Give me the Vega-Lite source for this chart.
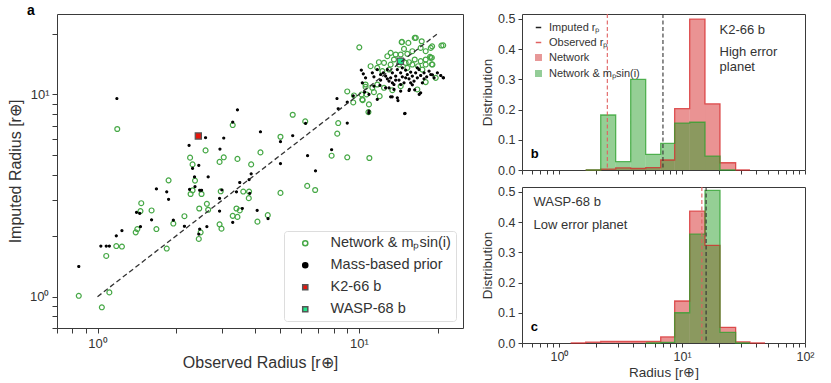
{
"$schema": "https://vega.github.io/schema/vega-lite/v6.json",
"autosize": {"type": "none"},
"padding": {"left": 57, "top": 14, "right": 774, "bottom": 369},
"background": "white",
"config": {
  "font": "Liberation Sans",
  "view": {"stroke": "#3a3a3a", "strokeWidth": 1},
  "axis": {"grid": false, "domain": false, "labelColor": "#333", "titleColor": "#333", "tickColor": "#3a3a3a", "labelFont": "Liberation Sans", "titleFont": "Liberation Sans", "titleFontWeight": "normal", "labelOverlap": false, "labelFlush": false},
  "legend": {"labelFont": "Liberation Sans", "labelColor": "#333"},
  "text": {"font": "Liberation Sans"}
},
"datasets": {
  "scatter": [
    {"obs":0.848,"imp":1.01,"grp":"Network & mₚsin(i)"},{"obs":1.039,"imp":0.886,"grp":"Network & mₚsin(i)"},{"obs":1.11,"imp":1.05,"grp":"Network & mₚsin(i)"},{"obs":1.08,"imp":1.59,"grp":"Network & mₚsin(i)"},{"obs":1.18,"imp":1.78,"grp":"Network & mₚsin(i)"},{"obs":1.24,"imp":1.77,"grp":"Network & mₚsin(i)"},{"obs":1.19,"imp":6.75,"grp":"Network & mₚsin(i)"},{"obs":1.40,"imp":2.08,"grp":"Network & mₚsin(i)"},{"obs":1.42,"imp":2.16,"grp":"Network & mₚsin(i)"},{"obs":1.46,"imp":2.65,"grp":"Network & mₚsin(i)"},{"obs":1.47,"imp":2.90,"grp":"Network & mₚsin(i)"},{"obs":1.61,"imp":2.67,"grp":"Network & mₚsin(i)"},{"obs":1.68,"imp":2.16,"grp":"Network & mₚsin(i)"},{"obs":1.84,"imp":1.73,"grp":"Network & mₚsin(i)"},{"obs":1.87,"imp":3.76,"grp":"Network & mₚsin(i)"},{"obs":1.95,"imp":2.30,"grp":"Network & mₚsin(i)"},{"obs":2.15,"imp":2.50,"grp":"Network & mₚsin(i)"},{"obs":2.26,"imp":4.87,"grp":"Network & mₚsin(i)"},{"obs":2.31,"imp":4.51,"grp":"Network & mₚsin(i)"},{"obs":2.31,"imp":3.36,"grp":"Network & mₚsin(i)"},{"obs":2.36,"imp":3.75,"grp":"Network & mₚsin(i)"},{"obs":2.27,"imp":3.22,"grp":"Network & mₚsin(i)"},{"obs":2.44,"imp":1.93,"grp":"Network & mₚsin(i)"},{"obs":2.45,"imp":2.73,"grp":"Network & mₚsin(i)"},{"obs":2.48,"imp":2.08,"grp":"Network & mₚsin(i)"},{"obs":2.50,"imp":3.22,"grp":"Network & mₚsin(i)"},{"obs":2.59,"imp":5.29,"grp":"Network & mₚsin(i)"},{"obs":2.62,"imp":2.88,"grp":"Network & mₚsin(i)"},{"obs":2.65,"imp":2.69,"grp":"Network & mₚsin(i)"},{"obs":2.93,"imp":4.64,"grp":"Network & mₚsin(i)"},{"obs":2.96,"imp":3.32,"grp":"Network & mₚsin(i)"},{"obs":3.04,"imp":4.89,"grp":"Network & mₚsin(i)"},{"obs":2.93,"imp":2.28,"grp":"Network & mₚsin(i)"},{"obs":2.98,"imp":2.17,"grp":"Network & mₚsin(i)"},{"obs":3.29,"imp":7.06,"grp":"Network & mₚsin(i)"},{"obs":3.29,"imp":2.51,"grp":"Network & mₚsin(i)"},{"obs":3.43,"imp":4.80,"grp":"Network & mₚsin(i)"},{"obs":3.40,"imp":2.73,"grp":"Network & mₚsin(i)"},{"obs":3.43,"imp":2.48,"grp":"Network & mₚsin(i)"},{"obs":3.50,"imp":2.67,"grp":"Network & mₚsin(i)"},{"obs":3.61,"imp":3.31,"grp":"Network & mₚsin(i)"},{"obs":3.80,"imp":3.31,"grp":"Network & mₚsin(i)"},{"obs":3.79,"imp":3.07,"grp":"Network & mₚsin(i)"},{"obs":3.87,"imp":4.51,"grp":"Network & mₚsin(i)"},{"obs":4.09,"imp":2.35,"grp":"Network & mₚsin(i)"},{"obs":4.20,"imp":5.17,"grp":"Network & mₚsin(i)"},{"obs":4.48,"imp":2.53,"grp":"Network & mₚsin(i)"},{"obs":5.01,"imp":6.18,"grp":"Network & mₚsin(i)"},{"obs":5.01,"imp":3.26,"grp":"Network & mₚsin(i)"},{"obs":5.58,"imp":7.94,"grp":"Network & mₚsin(i)"},{"obs":6.23,"imp":7.36,"grp":"Network & mₚsin(i)"},{"obs":6.34,"imp":3.53,"grp":"Network & mₚsin(i)"},{"obs":6.80,"imp":3.37,"grp":"Network & mₚsin(i)"},{"obs":7.86,"imp":4.98,"grp":"Network & mₚsin(i)"},{"obs":8.26,"imp":6.40,"grp":"Network & mₚsin(i)"},{"obs":8.33,"imp":7.22,"grp":"Network & mₚsin(i)"},{"obs":9.02,"imp":4.89,"grp":"Network & mₚsin(i)"},{"obs":9.02,"imp":10.35,"grp":"Network & mₚsin(i)"},{"obs":9.51,"imp":9.13,"grp":"Network & mₚsin(i)"},{"obs":10.33,"imp":9.37,"grp":"Network & mₚsin(i)"},{"obs":10.92,"imp":8.93,"grp":"Network & mₚsin(i)"},{"obs":10.87,"imp":8.18,"grp":"Network & mₚsin(i)"},{"obs":10.96,"imp":4.85,"grp":"Network & mₚsin(i)"},{"obs":10.03,"imp":17.1,"grp":"Network & mₚsin(i)"},{"obs":10.23,"imp":10.0,"grp":"Network & mₚsin(i)"},{"obs":10.6,"imp":10.9,"grp":"Network & mₚsin(i)"},
    {"obs":14.57,"imp":18.13,"grp":"Network & mₚsin(i)"},{"obs":15.45,"imp":17.99,"grp":"Network & mₚsin(i)"},{"obs":16.34,"imp":19.04,"grp":"Network & mₚsin(i)"},{"obs":17.38,"imp":18.33,"grp":"Network & mₚsin(i)"},{"obs":20.67,"imp":17.45,"grp":"Network & mₚsin(i)"},{"obs":14.87,"imp":16.80,"grp":"Network & mₚsin(i)"},{"obs":16.00,"imp":16.37,"grp":"Network & mₚsin(i)"},{"obs":17.22,"imp":16.99,"grp":"Network & mₚsin(i)"},{"obs":18.82,"imp":16.99,"grp":"Network & mₚsin(i)"},{"obs":13.22,"imp":16.06,"grp":"Network & mₚsin(i)"},{"obs":13.82,"imp":15.76,"grp":"Network & mₚsin(i)"},{"obs":14.44,"imp":15.76,"grp":"Network & mₚsin(i)"},{"obs":15.31,"imp":15.88,"grp":"Network & mₚsin(i)"},{"obs":18.00,"imp":16.37,"grp":"Network & mₚsin(i)"},{"obs":18.70,"imp":15.35,"grp":"Network & mₚsin(i)"},{"obs":12.84,"imp":15.46,"grp":"Network & mₚsin(i)"},{"obs":13.61,"imp":14.89,"grp":"Network & mₚsin(i)"},{"obs":14.44,"imp":14.61,"grp":"Network & mₚsin(i)"},{"obs":15.54,"imp":14.44,"grp":"Network & mₚsin(i)"},{"obs":16.34,"imp":14.89,"grp":"Network & mₚsin(i)"},{"obs":17.22,"imp":14.61,"grp":"Network & mₚsin(i)"},{"obs":18.00,"imp":14.89,"grp":"Network & mₚsin(i)"},{"obs":18.82,"imp":15.17,"grp":"Network & mₚsin(i)"},{"obs":19.10,"imp":14.06,"grp":"Network & mₚsin(i)"},{"obs":11.92,"imp":14.44,"grp":"Network & mₚsin(i)"},{"obs":12.47,"imp":14.33,"grp":"Network & mₚsin(i)"},{"obs":13.22,"imp":14.06,"grp":"Network & mₚsin(i)"},{"obs":14.23,"imp":14.06,"grp":"Network & mₚsin(i)"},{"obs":15.09,"imp":14.33,"grp":"Network & mₚsin(i)"},{"obs":16.00,"imp":14.06,"grp":"Network & mₚsin(i)"},{"obs":16.83,"imp":13.80,"grp":"Network & mₚsin(i)"},{"obs":18.00,"imp":14.06,"grp":"Network & mₚsin(i)"},{"obs":11.08,"imp":13.80,"grp":"Network & mₚsin(i)"},{"obs":11.75,"imp":13.54,"grp":"Network & mₚsin(i)"},{"obs":12.29,"imp":13.04,"grp":"Network & mₚsin(i)"},{"obs":13.03,"imp":13.28,"grp":"Network & mₚsin(i)"},{"obs":15.31,"imp":13.54,"grp":"Network & mₚsin(i)"},{"obs":17.48,"imp":13.28,"grp":"Network & mₚsin(i)"},{"obs":18.00,"imp":11.51,"grp":"Network & mₚsin(i)"},{"obs":10.60,"imp":11.20,"grp":"Network & mₚsin(i)"},{"obs":11.25,"imp":10.79,"grp":"Network & mₚsin(i)"},{"obs":11.75,"imp":11.20,"grp":"Network & mₚsin(i)"},{"obs":12.47,"imp":10.79,"grp":"Network & mₚsin(i)"},{"obs":13.42,"imp":10.50,"grp":"Network & mₚsin(i)"},{"obs":14.44,"imp":10.99,"grp":"Network & mₚsin(i)"},{"obs":11.41,"imp":10.27,"grp":"Network & mₚsin(i)"},{"obs":10.70,"imp":10.0,"grp":"Network & mₚsin(i)"},{"obs":12.00,"imp":9.81,"grp":"Network & mₚsin(i)"},{"obs":10.30,"imp":9.45,"grp":"Network & mₚsin(i)"},{"obs":16.72,"imp":10.59,"grp":"Network & mₚsin(i)"},{"obs":19.66,"imp":12.08,"grp":"Network & mₚsin(i)"},{"obs":9.57,"imp":9.89,"grp":"Network & mₚsin(i)"},{"obs":21.0,"imp":17.5,"grp":"Network & mₚsin(i)"},{"obs":19.05,"imp":17.3,"grp":"Network & mₚsin(i)"},{"obs":19.0,"imp":15.2,"grp":"Network & mₚsin(i)"},{"obs":19.0,"imp":14.1,"grp":"Network & mₚsin(i)"},{"obs":16.5,"imp":19.05,"grp":"Network & mₚsin(i)"},{"obs":14.6,"imp":18.2,"grp":"Network & mₚsin(i)"},
    {"obs":0.848,"imp":1.41,"grp":"Mass-based prior"},{"obs":1.186,"imp":9.55,"grp":"Mass-based prior"},{"obs":1.03,"imp":1.78,"grp":"Mass-based prior"},{"obs":1.08,"imp":1.78,"grp":"Mass-based prior"},{"obs":1.11,"imp":1.78,"grp":"Mass-based prior"},{"obs":1.18,"imp":2.0,"grp":"Mass-based prior"},{"obs":1.24,"imp":2.12,"grp":"Mass-based prior"},{"obs":1.41,"imp":2.61,"grp":"Mass-based prior"},{"obs":1.45,"imp":2.58,"grp":"Mass-based prior"},{"obs":1.46,"imp":2.22,"grp":"Mass-based prior"},{"obs":1.61,"imp":2.40,"grp":"Mass-based prior"},{"obs":1.68,"imp":3.41,"grp":"Mass-based prior"},{"obs":1.84,"imp":3.30,"grp":"Mass-based prior"},{"obs":1.87,"imp":3.03,"grp":"Mass-based prior"},{"obs":1.95,"imp":2.39,"grp":"Mass-based prior"},{"obs":2.15,"imp":2.23,"grp":"Mass-based prior"},{"obs":2.24,"imp":5.6,"grp":"Mass-based prior"},{"obs":2.31,"imp":4.31,"grp":"Mass-based prior"},{"obs":2.25,"imp":3.39,"grp":"Mass-based prior"},{"obs":2.35,"imp":3.91,"grp":"Mass-based prior"},{"obs":2.36,"imp":3.50,"grp":"Mass-based prior"},{"obs":2.44,"imp":4.46,"grp":"Mass-based prior"},{"obs":2.46,"imp":3.36,"grp":"Mass-based prior"},{"obs":2.50,"imp":3.36,"grp":"Mass-based prior"},{"obs":2.59,"imp":6.11,"grp":"Mass-based prior"},{"obs":2.65,"imp":3.91,"grp":"Mass-based prior"},{"obs":2.44,"imp":2.04,"grp":"Mass-based prior"},{"obs":2.46,"imp":2.16,"grp":"Mass-based prior"},{"obs":2.62,"imp":2.22,"grp":"Mass-based prior"},{"obs":2.94,"imp":5.37,"grp":"Mass-based prior"},{"obs":3.04,"imp":6.09,"grp":"Mass-based prior"},{"obs":2.93,"imp":3.06,"grp":"Mass-based prior"},{"obs":2.99,"imp":3.37,"grp":"Mass-based prior"},{"obs":2.93,"imp":2.65,"grp":"Mass-based prior"},{"obs":3.29,"imp":7.3,"grp":"Mass-based prior"},{"obs":3.43,"imp":8.4,"grp":"Mass-based prior"},{"obs":3.29,"imp":2.33,"grp":"Mass-based prior"},{"obs":3.40,"imp":3.30,"grp":"Mass-based prior"},{"obs":3.50,"imp":3.67,"grp":"Mass-based prior"},{"obs":3.58,"imp":2.73,"grp":"Mass-based prior"},{"obs":3.80,"imp":3.79,"grp":"Mass-based prior"},{"obs":3.82,"imp":3.24,"grp":"Mass-based prior"},{"obs":3.87,"imp":4.05,"grp":"Mass-based prior"},{"obs":4.20,"imp":6.54,"grp":"Mass-based prior"},{"obs":4.08,"imp":2.67,"grp":"Mass-based prior"},{"obs":4.49,"imp":2.43,"grp":"Mass-based prior"},{"obs":5.01,"imp":5.84,"grp":"Mass-based prior"},{"obs":5.01,"imp":4.55,"grp":"Mass-based prior"},{"obs":5.58,"imp":6.25,"grp":"Mass-based prior"},{"obs":6.25,"imp":7.19,"grp":"Mass-based prior"},{"obs":6.36,"imp":4.98,"grp":"Mass-based prior"},{"obs":6.82,"imp":4.19,"grp":"Mass-based prior"},{"obs":7.86,"imp":5.33,"grp":"Mass-based prior"},{"obs":8.24,"imp":9.55,"grp":"Mass-based prior"},{"obs":8.33,"imp":8.5,"grp":"Mass-based prior"},{"obs":9.02,"imp":7.22,"grp":"Mass-based prior"},{"obs":9.02,"imp":9.17,"grp":"Mass-based prior"},{"obs":9.51,"imp":9.85,"grp":"Mass-based prior"},{"obs":10.9,"imp":8.09,"grp":"Mass-based prior"},{"obs":15.0,"imp":8.06,"grp":"Mass-based prior"},{"obs":14.1,"imp":9.33,"grp":"Mass-based prior"},{"obs":21.0,"imp":12.1,"grp":"Mass-based prior"},{"obs":17.0,"imp":10.0,"grp":"Mass-based prior"},{"obs":15.6,"imp":10.6,"grp":"Mass-based prior"},{"obs":13.4,"imp":9.73,"grp":"Mass-based prior"},
    {"obs":10.21,"imp":13.18,"grp":"Mass-based prior"},{"obs":10.39,"imp":12.65,"grp":"Mass-based prior"},{"obs":10.60,"imp":12.08,"grp":"Mass-based prior"},{"obs":10.30,"imp":11.42,"grp":"Mass-based prior"},{"obs":11.25,"imp":12.79,"grp":"Mass-based prior"},{"obs":11.41,"imp":12.22,"grp":"Mass-based prior"},{"obs":11.75,"imp":13.28,"grp":"Mass-based prior"},{"obs":12.10,"imp":11.77,"grp":"Mass-based prior"},{"obs":12.39,"imp":12.79,"grp":"Mass-based prior"},{"obs":12.65,"imp":12.31,"grp":"Mass-based prior"},{"obs":12.84,"imp":13.28,"grp":"Mass-based prior"},{"obs":13.03,"imp":11.64,"grp":"Mass-based prior"},{"obs":13.22,"imp":12.08,"grp":"Mass-based prior"},{"obs":13.42,"imp":12.79,"grp":"Mass-based prior"},{"obs":13.61,"imp":11.20,"grp":"Mass-based prior"},{"obs":13.82,"imp":12.31,"grp":"Mass-based prior"},{"obs":14.02,"imp":13.28,"grp":"Mass-based prior"},{"obs":14.23,"imp":11.77,"grp":"Mass-based prior"},{"obs":14.44,"imp":12.79,"grp":"Mass-based prior"},{"obs":14.65,"imp":12.22,"grp":"Mass-based prior"},{"obs":14.87,"imp":11.42,"grp":"Mass-based prior"},{"obs":15.09,"imp":13.18,"grp":"Mass-based prior"},{"obs":15.31,"imp":12.55,"grp":"Mass-based prior"},{"obs":15.54,"imp":11.95,"grp":"Mass-based prior"},{"obs":15.77,"imp":12.89,"grp":"Mass-based prior"},{"obs":16.00,"imp":12.31,"grp":"Mass-based prior"},{"obs":16.24,"imp":11.64,"grp":"Mass-based prior"},{"obs":16.48,"imp":12.79,"grp":"Mass-based prior"},{"obs":16.72,"imp":12.08,"grp":"Mass-based prior"},{"obs":16.97,"imp":13.28,"grp":"Mass-based prior"},{"obs":17.22,"imp":12.41,"grp":"Mass-based prior"},{"obs":17.48,"imp":11.42,"grp":"Mass-based prior"},{"obs":17.74,"imp":12.79,"grp":"Mass-based prior"},{"obs":18.16,"imp":12.22,"grp":"Mass-based prior"},{"obs":18.54,"imp":13.04,"grp":"Mass-based prior"},{"obs":18.82,"imp":12.55,"grp":"Mass-based prior"},{"obs":19.38,"imp":12.08,"grp":"Mass-based prior"},{"obs":19.95,"imp":12.79,"grp":"Mass-based prior"},{"obs":21.04,"imp":12.08,"grp":"Mass-based prior"},{"obs":20.55,"imp":12.41,"grp":"Mass-based prior"},{"obs":13.61,"imp":10.59,"grp":"Mass-based prior"},{"obs":14.02,"imp":9.63,"grp":"Mass-based prior"},{"obs":14.44,"imp":10.38,"grp":"Mass-based prior"},{"obs":15.54,"imp":10.46,"grp":"Mass-based prior"},{"obs":16.00,"imp":11.16,"grp":"Mass-based prior"},{"obs":16.34,"imp":10.54,"grp":"Mass-based prior"},{"obs":17.22,"imp":10.19,"grp":"Mass-based prior"},{"obs":10.51,"imp":10.27,"grp":"Mass-based prior"},{"obs":10.92,"imp":10.0,"grp":"Mass-based prior"},{"obs":11.41,"imp":10.99,"grp":"Mass-based prior"},{"obs":12.03,"imp":11.08,"grp":"Mass-based prior"},{"obs":12.65,"imp":10.79,"grp":"Mass-based prior"},{"obs":14.96,"imp":8.03,"grp":"Mass-based prior"},{"obs":10.92,"imp":8.27,"grp":"Mass-based prior"},{"obs":13.22,"imp":9.74,"grp":"Mass-based prior"},{"obs":11.75,"imp":9.45,"grp":"Mass-based prior"},{"obs":19.10,"imp":12.50,"grp":"Mass-based prior"},{"obs":16.72,"imp":13.54,"grp":"Mass-based prior"},{"obs":14.65,"imp":13.54,"grp":"Mass-based prior"},{"obs":13.03,"imp":10.79,"grp":"Mass-based prior"},{"obs":12.84,"imp":11.95,"grp":"Mass-based prior"},{"obs":13.82,"imp":11.77,"grp":"Mass-based prior"},{"obs":15.09,"imp":12.08,"grp":"Mass-based prior"},{"obs":13.42,"imp":11.42,"grp":"Mass-based prior"},{"obs":12.10,"imp":12.55,"grp":"Mass-based prior"},{"obs":15.77,"imp":11.42,"grp":"Mass-based prior"},{"obs":17.74,"imp":11.95,"grp":"Mass-based prior"},{"obs":14.44,"imp":11.20,"grp":"Mass-based prior"},
    {"obs":2.43,"imp":6.23,"grp":"K2-66 b"},
    {"obs":14.4,"imp":14.6,"grp":"WASP-68 b"}
  ],
  "hist": [
    {"p":"b","s":"Network","lo":1.647,"hi":2.182,"v":0},{"p":"b","s":"Network","lo":2.182,"hi":2.888,"v":0.003},{"p":"b","s":"Network","lo":2.888,"hi":3.825,"v":0.007},{"p":"b","s":"Network","lo":3.825,"hi":5.066,"v":0.005},{"p":"b","s":"Network","lo":5.066,"hi":6.709,"v":0.008},{"p":"b","s":"Network","lo":6.709,"hi":8.71,"v":0.033},{"p":"b","s":"Network","lo":8.71,"hi":11.54,"v":0.203},{"p":"b","s":"Network","lo":11.54,"hi":15.38,"v":0.499},{"p":"b","s":"Network","lo":15.38,"hi":20.37,"v":0.219},{"p":"b","s":"Network","lo":20.37,"hi":27.3,"v":0.024},{"p":"b","s":"Network","lo":27.3,"hi":35.7,"v":0},
    {"p":"b","s":"Network & mₚsin(i)","lo":1.647,"hi":2.182,"v":0},{"p":"b","s":"Network & mₚsin(i)","lo":2.182,"hi":2.888,"v":0.182},{"p":"b","s":"Network & mₚsin(i)","lo":2.888,"hi":3.825,"v":0.028},{"p":"b","s":"Network & mₚsin(i)","lo":3.825,"hi":5.066,"v":0.30},{"p":"b","s":"Network & mₚsin(i)","lo":5.066,"hi":6.709,"v":0.052},{"p":"b","s":"Network & mₚsin(i)","lo":6.709,"hi":8.71,"v":0.088},{"p":"b","s":"Network & mₚsin(i)","lo":8.71,"hi":11.54,"v":0.155},{"p":"b","s":"Network & mₚsin(i)","lo":11.54,"hi":15.38,"v":0.158},{"p":"b","s":"Network & mₚsin(i)","lo":15.38,"hi":20.37,"v":0.046},{"p":"b","s":"Network & mₚsin(i)","lo":20.37,"hi":27.3,"v":0},
    {"p":"c","s":"Network","lo":1.244,"hi":1.647,"v":0},{"p":"c","s":"Network","lo":1.647,"hi":2.182,"v":0.003},{"p":"c","s":"Network","lo":2.182,"hi":2.888,"v":0.005},{"p":"c","s":"Network","lo":2.888,"hi":3.825,"v":0.005},{"p":"c","s":"Network","lo":3.825,"hi":5.066,"v":0.005},{"p":"c","s":"Network","lo":5.066,"hi":6.709,"v":0.005},{"p":"c","s":"Network","lo":6.709,"hi":8.71,"v":0.02},{"p":"c","s":"Network","lo":8.71,"hi":11.54,"v":0.139},{"p":"c","s":"Network","lo":11.54,"hi":15.38,"v":0.436},{"p":"c","s":"Network","lo":15.38,"hi":20.37,"v":0.323},{"p":"c","s":"Network","lo":20.37,"hi":27.3,"v":0.052},{"p":"c","s":"Network","lo":27.3,"hi":35.7,"v":0.004},{"p":"c","s":"Network","lo":35.7,"hi":47.3,"v":0},
    {"p":"c","s":"Network & mₚsin(i)","lo":5.066,"hi":6.709,"v":0},{"p":"c","s":"Network & mₚsin(i)","lo":6.709,"hi":8.71,"v":0.002},{"p":"c","s":"Network & mₚsin(i)","lo":8.71,"hi":11.54,"v":0.10},{"p":"c","s":"Network & mₚsin(i)","lo":11.54,"hi":15.38,"v":0.36},{"p":"c","s":"Network & mₚsin(i)","lo":15.38,"hi":20.37,"v":0.505},{"p":"c","s":"Network & mₚsin(i)","lo":20.37,"hi":27.3,"v":0.035},{"p":"c","s":"Network & mₚsin(i)","lo":27.3,"hi":35.7,"v":0}
  ],
  "vlines": [
    {"p":"b","s":"Observed rₚ","x":2.47},{"p":"b","s":"Imputed rₚ","x":7.0},
    {"p":"c","s":"Observed rₚ","x":14.5},{"p":"c","s":"Imputed rₚ","x":15.7}
  ],
  "notes": [
    {"p":"b","t":"K2-66 b","x":20.2,"y":0.463},{"p":"b","t":"High error","x":20.2,"y":0.391},{"p":"b","t":"planet","x":20.2,"y":0.342},
    {"p":"c","t":"WASP-68 b","x":0.62,"y":0.466},{"p":"c","t":"Low error planet","x":0.62,"y":0.390}
  ],
  "letters": [
    {"p":"b","t":"b","x":0.59,"y":0.053},
    {"p":"c","t":"c","x":0.59,"y":0.052}
  ]
},
"bounds": "flush",
"spacing": 59,
"resolve": {"scale": {"color": "independent", "fill": "independent", "stroke": "independent", "shape": "independent"}, "legend": {"color": "independent", "fill": "independent", "stroke": "independent", "shape": "independent"}},
"hconcat": [
  {
    "width": 406, "height": 314,
    "title": {"text": "a", "anchor": "start", "frame": "group", "dx": -30, "dy": 15, "offset": 0, "baseline": "alphabetic", "fontSize": 14, "fontWeight": "bold", "color": "#000"},
    "layer": [
      {
        "data": {"name": "scatter"},
        "mark": {"type": "point", "opacity": 1, "strokeWidth": 1.2},
        "encoding": {
          "x": {"field": "obs", "type": "quantitative", "scale": {"type": "log", "domain": [0.7, 25]},
                "axis": {"title": "Observed Radius [r⊕]", "values": [0.7,0.8,0.9,1,2,3,4,5,6,7,8,9,10,20], "labelExpr": "datum.value == 1 ? '10⁰' : datum.value == 10 ? '10¹' : ''", "labelOverlap": false, "labelFlush": false, "tickSize": 5, "encode": {"ticks": {"update": {"y2": {"signal": "(datum.value == 1 || datum.value == 10) ? 5 : 3"}}}}, "labelFontSize": 13, "titleFontSize": 16, "labelPadding": 4, "titlePadding": 4}},
          "y": {"field": "imp", "type": "quantitative", "scale": {"type": "log", "domain": [0.7, 25]},
                "axis": {"title": "Imputed Radius [r⊕]", "values": [0.7,0.8,0.9,1,2,3,4,5,6,7,8,9,10,20], "labelExpr": "datum.value == 1 ? '10⁰' : datum.value == 10 ? '10¹' : ''", "labelOverlap": false, "labelFlush": false, "tickSize": 5, "encode": {"ticks": {"update": {"x2": {"signal": "(datum.value == 1 || datum.value == 10) ? -5 : -3"}}}}, "labelFontSize": 13, "titleFontSize": 16, "labelPadding": 3, "titlePadding": 6}},
          "shape": {"field": "grp", "type": "nominal", "scale": {"domain": ["Network & mₚsin(i)", "Mass-based prior", "K2-66 b", "WASP-68 b"], "range": ["circle", "circle", "square", "square"]},
                    "legend": {"title": null, "orient": "bottom-right", "offset": 7, "fillColor": "white", "strokeColor": "#dddddd", "cornerRadius": 3, "padding": 5, "labelFontSize": 14.5, "rowPadding": 7, "labelOffset": 18, "symbolOffset": 9, "symbolSize": 26}},
          "fill": {"field": "grp", "type": "nominal", "scale": {"domain": ["Network & mₚsin(i)", "Mass-based prior", "K2-66 b", "WASP-68 b"], "range": ["transparent", "#000000", "#e8160c", "#22e88a"]},
                   "legend": {"title": null, "orient": "bottom-right", "offset": 7, "fillColor": "white", "strokeColor": "#dddddd", "cornerRadius": 3, "padding": 5, "labelFontSize": 14.5, "rowPadding": 7, "labelOffset": 18, "symbolOffset": 9, "symbolSize": 26}},
          "stroke": {"field": "grp", "type": "nominal", "scale": {"domain": ["Network & mₚsin(i)", "Mass-based prior", "K2-66 b", "WASP-68 b"], "range": ["#46a846", "#000000", "#555555", "#555555"]},
                     "legend": {"title": null, "orient": "bottom-right", "offset": 7, "fillColor": "white", "strokeColor": "#dddddd", "cornerRadius": 3, "padding": 5, "labelFontSize": 14.5, "rowPadding": 7, "labelOffset": 18, "symbolOffset": 9, "symbolSize": 26}},
          "size": {"condition": [{"test": "datum.grp == 'Mass-based prior'", "value": 4}, {"test": "datum.grp == 'K2-66 b' || datum.grp == 'WASP-68 b'", "value": 38}], "value": 24}
        }
      },
      {
        "data": {"values": [{"a": 1}, {"a": 20}]},
        "mark": {"type": "line", "color": "#333333", "strokeDash": [5, 3], "strokeWidth": 1.3},
        "encoding": {
          "x": {"field": "a", "type": "quantitative", "scale": {"type": "log", "domain": [0.7, 25]}},
          "y": {"field": "a", "type": "quantitative", "scale": {"type": "log", "domain": [0.7, 25]}}
        }
      }
    ]
  },
  {
    "bounds": "flush",
    "spacing": 17,
    "vconcat": [
      {
        "width": 283, "height": 156,
        "layer": [
          {
            "data": {"name": "hist"},
            "transform": [{"filter": "datum.p == 'b'"}],
            "mark": {"type": "bar", "opacity": 0.5},
            "encoding": {
              "x": {"field": "lo", "type": "quantitative", "scale": {"type": "log", "domain": [0.5, 100]},
                    "axis": {"title": null, "labels": false, "values": [0.5,0.6,0.7,0.8,0.9,1,2,3,4,5,6,7,8,9,10,20,30,40,50,60,70,80,90,100], "tickSize": 4, "encode": {"ticks": {"update": {"y2": {"signal": "(datum.value == 1 || datum.value == 10 || datum.value == 100) ? 4 : 2.5"}}}}}},
              "x2": {"field": "hi"},
              "y": {"field": "v", "type": "quantitative", "scale": {"domain": [0, 0.516]},
                    "axis": {"title": "Distribution", "values": [0,0.1,0.2,0.3,0.4,0.5], "tickCount": 6, "format": ".1f", "labelOverlap": false, "labelFlush": false, "tickSize": 4, "labelFontSize": 12.5, "titleFontSize": 13.5, "labelPadding": 3, "titlePadding": 3}},
              "y2": {"datum": 0},
              "color": {"field": "s", "type": "nominal", "scale": {"domain": ["Network", "Network & mₚsin(i)", "Imputed rₚ", "Observed rₚ"], "range": ["#d62728", "#2ca02c", "#333333", "#e06060"]}, "legend": null}
            }
          },
          {
            "data": {"name": "hist"},
            "transform": [{"filter": "datum.p == 'b'"}, {"fold": ["lo", "hi"], "as": ["k", "xv"]}],
            "mark": {"type": "line", "strokeWidth": 1.3, "opacity": 0.75},
            "encoding": {
              "x": {"field": "xv", "type": "quantitative", "scale": {"type": "log", "domain": [0.5, 100]}},
              "y": {"field": "v", "type": "quantitative", "scale": {"domain": [0, 0.516]}},
              "color": {"field": "s", "type": "nominal", "scale": {"domain": ["Network", "Network & mₚsin(i)", "Imputed rₚ", "Observed rₚ"], "range": ["#d62728", "#2ca02c", "#333333", "#e06060"]}, "legend": null},
              "order": [{"field": "lo", "type": "quantitative"}, {"field": "k", "type": "nominal", "sort": "descending"}]
            }
          },
          {
            "data": {"name": "vlines"},
            "transform": [{"filter": "datum.p == 'b'"}],
            "mark": {"type": "rule", "strokeDash": [4, 2.5], "strokeWidth": 1.1},
            "encoding": {
              "x": {"field": "x", "type": "quantitative", "scale": {"type": "log", "domain": [0.5, 100]}},
              "color": {"field": "s", "type": "nominal", "scale": {"domain": ["Network", "Network & mₚsin(i)", "Imputed rₚ", "Observed rₚ"], "range": ["#d62728", "#2ca02c", "#333333", "#e06060"]}, "legend": null}
            }
          },
          {
            "data": {"name": "notes"},
            "transform": [{"filter": "datum.p == 'b'"}],
            "mark": {"type": "text", "align": "left", "baseline": "middle", "fontSize": 13, "color": "#333"},
            "encoding": {
              "x": {"field": "x", "type": "quantitative", "scale": {"type": "log", "domain": [0.5, 100]}},
              "y": {"field": "y", "type": "quantitative", "scale": {"domain": [0, 0.516]}},
              "text": {"field": "t"}
            }
          },
          {
            "data": {"name": "letters"},
            "transform": [{"filter": "datum.p == 'b'"}],
            "mark": {"type": "text", "align": "left", "baseline": "middle", "fontSize": 13, "fontWeight": "bold", "color": "#000"},
            "encoding": {
              "x": {"field": "x", "type": "quantitative", "scale": {"type": "log", "domain": [0.5, 100]}},
              "y": {"field": "y", "type": "quantitative", "scale": {"domain": [0, 0.516]}},
              "text": {"field": "t"}
            }
          },
          {
            "data": {"name": "vlines"},
            "transform": [{"filter": "false"}],
            "mark": {"type": "point", "filled": true, "opacity": 1},
            "encoding": {
              "fill": {"field": "s", "type": "nominal", "scale": {"domain": ["Imputed rₚ", "Observed rₚ", "Network", "Network & mₚsin(i)"], "range": ["#222222", "#e06060", "#e79898", "#94cd98"]},
                       "legend": {"title": null, "orient": "top-left", "offset": 6, "padding": 2, "labelFontSize": 11, "rowPadding": 3, "symbolSize": 30, "symbolStrokeWidth": 1.5, "labelOffset": 5, "symbolOffset": 3}},
              "stroke": {"field": "s", "type": "nominal", "scale": {"domain": ["Imputed rₚ", "Observed rₚ", "Network", "Network & mₚsin(i)"], "range": ["#222222", "#e06060", "#e79898", "#94cd98"]},
                       "legend": {"title": null, "orient": "top-left", "offset": 6, "padding": 2, "labelFontSize": 11, "rowPadding": 3, "symbolSize": 30, "symbolStrokeWidth": 1.5, "labelOffset": 5, "symbolOffset": 3}},
              "shape": {"field": "s", "type": "nominal", "scale": {"domain": ["Imputed rₚ", "Observed rₚ", "Network", "Network & mₚsin(i)"], "range": ["stroke", "stroke", "square", "square"]},
                       "legend": {"title": null, "orient": "top-left", "offset": 6, "padding": 2, "labelFontSize": 11, "rowPadding": 3, "symbolSize": 30, "symbolStrokeWidth": 1.5, "labelOffset": 5, "symbolOffset": 3}}
            }
          }
        ]
      },
      {
        "width": 283, "height": 156,
        "layer": [
          {
            "data": {"name": "hist"},
            "transform": [{"filter": "datum.p == 'c'"}],
            "mark": {"type": "bar", "opacity": 0.5},
            "encoding": {
              "x": {"field": "lo", "type": "quantitative", "scale": {"type": "log", "domain": [0.5, 100]},
                    "axis": {"title": "Radius [r⊕]", "values": [0.5,0.6,0.7,0.8,0.9,1,2,3,4,5,6,7,8,9,10,20,30,40,50,60,70,80,90,100], "labelExpr": "datum.value == 1 ? '10⁰' : datum.value == 10 ? '10¹' : datum.value == 100 ? '10²' : ''", "labelOverlap": false, "labelFlush": false, "tickSize": 4, "encode": {"ticks": {"update": {"y2": {"signal": "(datum.value == 1 || datum.value == 10 || datum.value == 100) ? 4 : 2.5"}}}}, "labelFontSize": 12.5, "titleFontSize": 13.5, "labelPadding": 3, "titlePadding": 3}},
              "x2": {"field": "hi"},
              "y": {"field": "v", "type": "quantitative", "scale": {"domain": [0, 0.516]},
                    "axis": {"title": "Distribution", "values": [0,0.1,0.2,0.3,0.4,0.5], "tickCount": 6, "format": ".1f", "labelOverlap": false, "labelFlush": false, "tickSize": 4, "labelFontSize": 12.5, "titleFontSize": 13.5, "labelPadding": 3, "titlePadding": 3}},
              "y2": {"datum": 0},
              "color": {"field": "s", "type": "nominal", "scale": {"domain": ["Network", "Network & mₚsin(i)", "Imputed rₚ", "Observed rₚ"], "range": ["#d62728", "#2ca02c", "#333333", "#e06060"]}, "legend": null}
            }
          },
          {
            "data": {"name": "hist"},
            "transform": [{"filter": "datum.p == 'c'"}, {"fold": ["lo", "hi"], "as": ["k", "xv"]}],
            "mark": {"type": "line", "strokeWidth": 1.3, "opacity": 0.75},
            "encoding": {
              "x": {"field": "xv", "type": "quantitative", "scale": {"type": "log", "domain": [0.5, 100]}},
              "y": {"field": "v", "type": "quantitative", "scale": {"domain": [0, 0.516]}},
              "color": {"field": "s", "type": "nominal", "scale": {"domain": ["Network", "Network & mₚsin(i)", "Imputed rₚ", "Observed rₚ"], "range": ["#d62728", "#2ca02c", "#333333", "#e06060"]}, "legend": null},
              "order": [{"field": "lo", "type": "quantitative"}, {"field": "k", "type": "nominal", "sort": "descending"}]
            }
          },
          {
            "data": {"name": "vlines"},
            "transform": [{"filter": "datum.p == 'c'"}],
            "mark": {"type": "rule", "strokeDash": [4, 2.5], "strokeWidth": 1.1},
            "encoding": {
              "x": {"field": "x", "type": "quantitative", "scale": {"type": "log", "domain": [0.5, 100]}},
              "color": {"field": "s", "type": "nominal", "scale": {"domain": ["Network", "Network & mₚsin(i)", "Imputed rₚ", "Observed rₚ"], "range": ["#d62728", "#2ca02c", "#333333", "#e06060"]}, "legend": null}
            }
          },
          {
            "data": {"name": "notes"},
            "transform": [{"filter": "datum.p == 'c'"}],
            "mark": {"type": "text", "align": "left", "baseline": "middle", "fontSize": 13, "color": "#333"},
            "encoding": {
              "x": {"field": "x", "type": "quantitative", "scale": {"type": "log", "domain": [0.5, 100]}},
              "y": {"field": "y", "type": "quantitative", "scale": {"domain": [0, 0.516]}},
              "text": {"field": "t"}
            }
          },
          {
            "data": {"name": "letters"},
            "transform": [{"filter": "datum.p == 'c'"}],
            "mark": {"type": "text", "align": "left", "baseline": "middle", "fontSize": 13, "fontWeight": "bold", "color": "#000"},
            "encoding": {
              "x": {"field": "x", "type": "quantitative", "scale": {"type": "log", "domain": [0.5, 100]}},
              "y": {"field": "y", "type": "quantitative", "scale": {"domain": [0, 0.516]}},
              "text": {"field": "t"}
            }
          }
        ]
      }
    ]
  }
]
}
